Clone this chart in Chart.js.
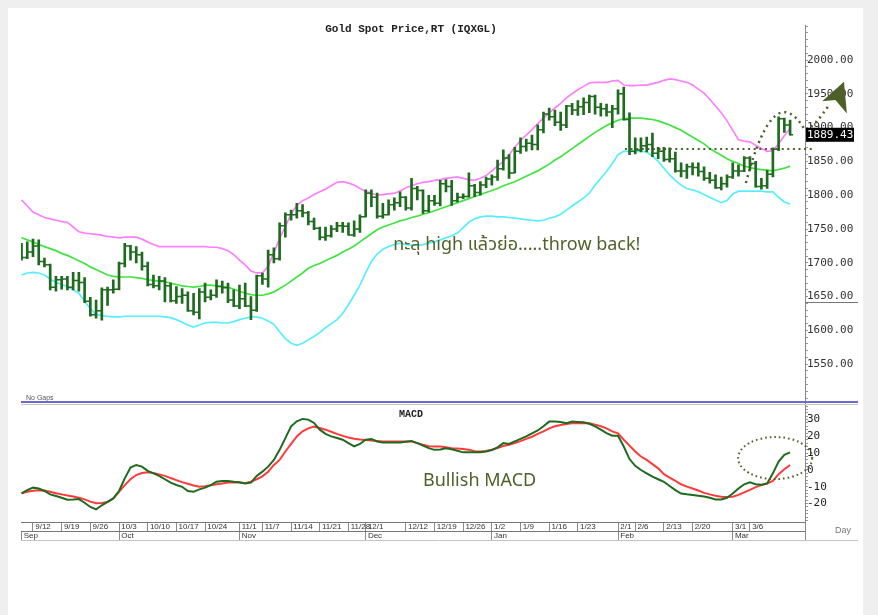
<!DOCTYPE html>
<html>
<head>
<meta charset="utf-8">
<script src="https://cdn.jsdelivr.net/npm/chart.js@4.4.1/dist/chart.umd.min.js"></script>
<style>
  html, body { margin: 0; padding: 0; background: #fff; }
  canvas { display: block; }
</style>
</head>
<body>
<canvas id="grafico" width="878" height="615"></canvas>
<script>
// Fechas (días hábiles) sep-2022 .. mar-2023
const dates = [
  '9/8','9/9','9/12','9/13','9/14','9/15','9/16','9/19','9/20','9/21','9/22','9/23','9/26','9/27','9/28','9/29','9/30',
  '10/3','10/4','10/5','10/6','10/7','10/10','10/11','10/12','10/13','10/14','10/17','10/18','10/19','10/20','10/21','10/24','10/25','10/26','10/27','10/28','10/31',
  '11/1','11/2','11/3','11/4','11/7','11/8','11/9','11/10','11/11','11/14','11/15','11/16','11/17','11/18','11/21','11/22','11/23','11/24','11/25','11/28','11/29','11/30',
  '12/1','12/2','12/5','12/6','12/7','12/8','12/9','12/12','12/13','12/14','12/15','12/16','12/19','12/20','12/21','12/22','12/23','12/26','12/27','12/28','12/29','12/30',
  '1/2','1/3','1/4','1/5','1/6','1/9','1/10','1/11','1/12','1/13','1/16','1/17','1/18','1/19','1/20','1/23','1/24','1/25','1/26','1/27','1/30','1/31',
  '2/1','2/2','2/3','2/6','2/7','2/8','2/9','2/10','2/13','2/14','2/15','2/16','2/17','2/20','2/21','2/22','2/23','2/24','2/27','2/28',
  '3/1','3/2','3/3','3/6','3/7','3/8','3/9','3/10','3/13','3/14','3/15'
];

const openPx = [
  1718,1708,1716,1725,1702,1697,1664,1675,1676,1664,1674,1671,1643,1623,1629,1660,1660,
  1661,1699,1725,1716,1712,1695,1668,1666,1673,1666,1644,1650,1652,1629,1627,1657,1649,1652,1665,1663,1645,
  1636,1647,1636,1630,1681,1676,1712,1706,1755,1771,1771,1777,1774,1761,1751,1738,1740,1750,1755,1754,1741,1750,
  1768,1803,1797,1769,1771,1786,1789,1797,1781,1810,1807,1777,1792,1788,1817,1813,1792,1797,1798,1814,1804,1815,
  1824,1827,1839,1855,1833,1865,1872,1877,1875,1897,1920,1916,1908,1904,1932,1926,1931,1937,1946,1930,1928,1923,
  1928,1950,1912,1865,1867,1873,1875,1862,1865,1853,1854,1836,1836,1842,1841,1835,1825,1822,1811,1817,
  1827,1836,1836,1855,1847,1813,1814,1831,1868,1913,1904
];
const highPx = [
  1729,1731,1735,1734,1707,1698,1680,1680,1680,1686,1686,1678,1649,1645,1663,1664,1675,
  1701,1729,1726,1724,1716,1701,1682,1680,1678,1670,1665,1662,1657,1655,1662,1670,1660,1675,1673,1670,1660,
  1667,1670,1650,1682,1685,1719,1722,1759,1774,1778,1788,1786,1776,1766,1753,1753,1755,1760,1760,1759,1762,1771,
  1808,1808,1803,1788,1793,1796,1805,1798,1825,1813,1808,1800,1800,1822,1823,1822,1803,1802,1833,1816,1820,1827,
  1830,1852,1867,1860,1871,1885,1883,1889,1904,1923,1929,1926,1923,1933,1936,1940,1944,1948,1948,1936,1935,1933,
  1956,1960,1922,1885,1885,1886,1892,1871,1871,1870,1864,1848,1846,1848,1848,1842,1834,1830,1827,1830,
  1848,1845,1857,1857,1850,1825,1837,1870,1916,1914,1911
];
const lowPx = [
  1704,1706,1709,1697,1694,1660,1658,1661,1660,1660,1658,1641,1621,1618,1615,1637,1655,
  1660,1694,1704,1700,1689,1666,1663,1660,1642,1642,1640,1640,1628,1623,1617,1642,1645,1649,1655,1641,1635,
  1632,1635,1616,1628,1668,1664,1700,1704,1738,1763,1766,1768,1756,1749,1734,1733,1738,1746,1745,1741,1739,1745,
  1768,1783,1766,1766,1771,1778,1783,1778,1778,1793,1773,1775,1785,1784,1805,1785,1790,1795,1797,1798,1800,1811,
  1815,1822,1837,1825,1833,1862,1865,1867,1867,1892,1911,1903,1896,1900,1919,1918,1919,1922,1920,1917,1917,1900,
  1920,1911,1860,1861,1864,1864,1857,1854,1850,1849,1834,1827,1825,1830,1828,1822,1818,1810,1808,1812,
  1825,1828,1835,1837,1812,1809,1810,1827,1866,1893,1889
];
const closePx = [
  1708,1716,1725,1702,1697,1664,1675,1676,1664,1674,1671,1643,1623,1629,1660,1660,1661,
  1699,1725,1716,1712,1695,1668,1666,1673,1666,1644,1650,1652,1629,1627,1657,1649,1652,1665,1663,1645,1636,
  1647,1636,1630,1681,1676,1712,1706,1755,1771,1771,1777,1774,1761,1751,1738,1740,1750,1755,1754,1741,1750,1768,
  1803,1797,1769,1771,1786,1789,1797,1781,1810,1807,1777,1792,1788,1817,1813,1792,1797,1798,1814,1804,1815,1824,
  1827,1839,1855,1833,1865,1872,1877,1875,1897,1920,1916,1908,1904,1932,1926,1931,1937,1946,1930,1928,1923,1928,
  1950,1912,1865,1867,1873,1875,1862,1865,1853,1854,1836,1836,1842,1841,1835,1825,1822,1811,1817,1827,
  1836,1836,1855,1847,1813,1814,1831,1868,1913,1904,1889.43
];

// Bandas de Bollinger
const bbUpper = [
  1793,1784,1775,1771,1767,1765,1763,1761,1760,1753,1746,1744,1743,1742,1741,1739,1738,1737,1738,1738,
  1738,1735,1731,1727,1724,1724,1724,1724,1724,1724,1724,1724,1724,1723,1723,1721,1718,1712,1704,1697,
  1688,1685,1685,1695,1715,1736,1754,1772,1785,1792,1796,1801,1805,1809,1814,1819,1820,1818,1815,1810,
  1806,1803,1800,1801,1802,1803,1806,1811,1814,1817,1819,1820,1822,1823,1825,1826,1827,1825,1823,1822,
  1825,1829,1836,1843,1850,1860,1871,1881,1889,1897,1906,1914,1922,1929,1936,1944,1950,1956,1961,1966,
  1967,1967,1967,1969,1970,1963,1962,1962,1963,1963,1965,1967,1970,1972,1971,1969,1967,1963,1957,1951,
  1942,1932,1922,1910,1896,1882,1880,1879,1874,1869,1865,1866,1876,1888,1899
];
const bbMid = [
  1737,1734,1731,1727,1724,1721,1718,1714,1711,1707,1703,1699,1694,1690,1686,1682,1680,1679,1679,1679,
  1678,1677,1675,1674,1673,1672,1670,1668,1666,1665,1664,1665,1667,1667,1666,1665,1664,1661,1658,1655,
  1653,1652,1652,1654,1657,1662,1667,1673,1679,1685,1692,1696,1699,1703,1707,1711,1716,1720,1725,1731,
  1737,1743,1749,1753,1756,1759,1762,1764,1767,1769,1772,1774,1777,1780,1783,1786,1789,1792,1795,1798,
  1801,1804,1807,1810,1814,1817,1820,1824,1828,1832,1836,1841,1846,1852,1857,1863,1869,1875,1881,1887,
  1893,1898,1903,1907,1911,1913,1914,1914,1914,1913,1912,1910,1907,1904,1900,1896,1891,1886,1881,1876,
  1869,1864,1859,1854,1850,1847,1843,1841,1839,1838,1837,1836,1838,1840,1843
];
const bbLower = [
  1682,1685,1686,1685,1682,1676,1671,1668,1665,1660,1655,1643,1632,1624,1622,1621,1620,1620,1621,1621,
  1621,1621,1621,1621,1621,1620,1619,1616,1612,1608,1605,1608,1611,1612,1612,1611,1611,1613,1616,1618,
  1620,1620,1618,1614,1609,1598,1588,1581,1578,1581,1586,1591,1597,1604,1610,1616,1625,1638,1652,1667,
  1685,1702,1713,1720,1724,1727,1729,1727,1726,1726,1727,1729,1731,1734,1737,1740,1744,1752,1760,1765,
  1768,1769,1769,1768,1768,1767,1766,1765,1764,1763,1762,1763,1766,1768,1772,1778,1784,1790,1796,1803,
  1815,1825,1835,1847,1860,1865,1865,1865,1865,1864,1858,1850,1840,1830,1822,1815,1810,1808,1805,1801,
  1797,1793,1789,1792,1802,1806,1806,1806,1806,1806,1805,1805,1797,1790,1787
];

// MACD y señal
const macdLine = [
  -13.9,-12,-10.5,-11,-12.5,-14.5,-15.5,-16.5,-17.7,-17.6,-17.3,-19.5,-22,-23.4,-21,-19,-16.9,-12.5,-5,1.5,
  3,2,-0.5,-2,-3.5,-5.5,-7.5,-8.9,-10,-12.5,-13,-11.5,-10.5,-9,-7,-6.5,-6.5,-7,-7.3,-8,
  -7.5,-3.5,-1,2,6,12,19,26,29,30.4,30,28,24,21.5,20,19,18,16,14,15.5,
  18,18.5,17,16.3,16.3,16.3,16.3,16.8,17.3,16,14.5,13,12,12.2,12.9,12.3,11.5,10.5,10.5,10.5,
  10.5,11,11.9,13.5,16,15.5,17,18.5,20,21.8,23.5,26,28.8,28.8,28.5,27.8,28.8,28.6,28.4,27.5,
  26,24,22,20.4,20.4,14,6.5,2.5,0,-2,-4,-5.5,-7,-9.5,-12,-14,-14.5,-14.9,-15.3,-15.8,
  -16.5,-17.5,-17.5,-16.5,-14,-11,-8.5,-7.3,-8.5,-8.8,-8,-2,5,9,10.5
];
const signalLine = [
  -13.9,-13,-12.3,-12,-12.2,-13,-13.8,-14.5,-15.2,-15.8,-16.5,-17.5,-18.8,-19.8,-19.6,-19,-17,-13,-9,-5.5,
  -3,-1.8,-1.4,-1.8,-2.6,-3.5,-4.8,-6,-7.2,-8.2,-9.2,-9.9,-9.6,-9.1,-8.5,-8,-7.5,-7.3,-7.5,-7.9,
  -7,-5.5,-3.8,-1,3,6,11,15.5,20,23,24.8,25.8,25,24,22.8,21.5,20.3,19.3,18.6,18.2,
  17.9,17.5,17.2,16.9,16.9,16.9,16.9,16.9,16.9,16,15,14.2,14,14,13.5,13,12.8,12.5,12,11.2,
  11,11.3,12,13,14.3,15,16,17.2,18.5,19.8,21.5,23,24.8,26,26.8,27.4,27.8,27.8,27.8,27.8,
  27,26,24.8,23,21.8,18,14.5,11,8,6,3.5,1,-2.5,-4.5,-6.5,-8.5,-9.9,-11,-12.2,-13.6,
  -14.5,-15.3,-15.9,-16,-15.9,-14.8,-13.3,-11.8,-10.2,-9,-8,-6.5,-2.5,0.5,3
];

// Etiquetas de ejes
const dateTicks = ['9/12','9/19','9/26','10/3','10/10','10/17','10/24','11/1','11/7','11/14','11/21','11/28',
  '12/1','12/12','12/19','12/26','1/2','1/9','1/16','1/23','2/1','2/6','2/13','2/20','3/1','3/6'];
const monthStarts = ['9/8','10/3','11/1','12/1','1/2','2/1','3/1'];
const monthNames = ['Sep','Oct','Nov','Dec','Jan','Feb','Mar'];
const priceLabels = [1550,1600,1650,1700,1750,1800,1850,1900,1950,2000];
const macdLabels = [-20,-10,0,10,20,30];

// Notas dibujadas sobre el gráfico (coordenadas en datos: índice, valor)
const breakLevel = 1868;
const breakLine = [105.2, 138.3];
const arcPts = [[126.3,1818],[129.6,1926],[133.1,1948],[136.6,1896],[138.3,1901],[140.9,1935]];
const arrowHead = [[143.4,1968],[139.6,1939],[141.9,1941],[143.9,1921]];
const macdRing = { i: 131.4, v: 7.1, rx: 37, ry: 21 };
const notaPrecio = { i: 64.8, v: 1725, txt: 'ทะลุ high แล้วย่อ.....throw back!' };
const notaMacd = { i: 70, v: -6.5, txt: 'Bullish MACD' };

const VERDE = '#1e6a1e';
const OLIVA = '#4f6228';

const pts = (arr) => arr.map((v, i) => ({ x: i, y: v }));

const marco = {
  id: 'marco',
  beforeDraw(c) {
    const g = c.ctx;
    g.save();
    g.fillStyle = '#fff';
    g.fillRect(0, 0, c.width, c.height);
    g.fillStyle = '#efefef';
    g.fillRect(0, 0, c.width, 8);
    g.fillRect(0, 0, 8, c.height);
    g.fillRect(863, 0, 15, c.height);
    g.restore();
  }
};

const notas = {
  id: 'notas',
  afterDraw(c) {
    const g = c.ctx;
    const sx = c.scales.x, sy = c.scales.y, sm = c.scales.ym;
    const P = (i, v) => [sx.getPixelForValue(i), sy.getPixelForValue(v)];
    const right = c.chartArea.right;
    g.save();

    // títulos
    g.fillStyle = '#222';
    g.textAlign = 'center';
    g.textBaseline = 'middle';
    g.font = "bold 11px 'Liberation Mono', monospace";
    g.fillText('Gold Spot Price,RT (IQXGL)', 411, 29);
    g.font = "bold 10px 'Liberation Mono', monospace";
    g.fillText('MACD', 411, 414);

    g.textAlign = 'left';
    g.fillStyle = '#555';
    g.font = "7px 'Liberation Sans', sans-serif";
    g.fillText('No Gaps', 26, 398);

    // separador entre paneles
    const sep = sy.bottom;
    g.fillStyle = '#6a6ad0';
    g.fillRect(21, sep - 2.5, 837, 2);
    g.fillStyle = '#c8c8c8';
    g.fillRect(21, sep + 0.5, 837, 1);

    // líneas de marco del eje
    g.strokeStyle = '#888';
    g.lineWidth = 1;
    g.beginPath();
    g.moveTo(right + 0.5, c.chartArea.bottom);
    g.lineTo(right + 0.5, 541);
    g.stroke();
    g.strokeStyle = '#c4c4c4';
    g.beginPath();
    g.moveTo(21, 540.5);
    g.lineTo(858, 540.5);
    g.stroke();
    g.strokeStyle = '#777';
    const y1650 = Math.round(sy.getPixelForValue(1642)) + 0.5;
    g.beginPath();
    g.moveTo(right, y1650);
    g.lineTo(858, y1650);
    g.stroke();

    g.fillStyle = '#777';
    g.font = "9px 'Liberation Sans Narrow', 'Liberation Sans', sans-serif";
    g.fillText('Day', 835, 531);

    // textos de análisis
    g.fillStyle = OLIVA;
    g.font = "18px 'Noto Sans Thai', 'Noto Sans', 'DejaVu Sans', sans-serif";
    g.fillText(notaPrecio.txt, sx.getPixelForValue(notaPrecio.i), sy.getPixelForValue(notaPrecio.v));
    g.font = "18px 'Noto Sans', sans-serif";
    g.fillText(notaMacd.txt, sx.getPixelForValue(notaMacd.i), sm.getPixelForValue(notaMacd.v));

    // línea punteada de ruptura
    g.strokeStyle = '#4f5f2a';
    g.lineWidth = 2;
    g.setLineDash([2, 3.6]);
    const ly = Math.round(sy.getPixelForValue(breakLevel));
    g.beginPath();
    g.moveTo(sx.getPixelForValue(breakLine[0]), ly);
    g.lineTo(sx.getPixelForValue(breakLine[1]), ly);
    g.stroke();

    // arco punteado + flecha
    const q = arcPts.map(([i, v]) => P(i, v));
    g.lineWidth = 2.5;
    g.setLineDash([2, 4]);
    g.beginPath();
    g.moveTo(q[0][0], q[0][1]);
    g.bezierCurveTo(q[1][0], q[1][1], q[2][0], q[2][1], q[3][0], q[3][1]);
    g.quadraticCurveTo(q[4][0], q[4][1], q[5][0], q[5][1]);
    g.stroke();
    g.setLineDash([]);
    const h = arrowHead.map(([i, v]) => P(i, v));
    g.fillStyle = '#4f5f2a';
    g.beginPath();
    g.moveTo(h[0][0], h[0][1]);
    for (let k = 1; k < h.length; k++) g.lineTo(h[k][0], h[k][1]);
    g.closePath();
    g.fill();

    // elipse punteada en MACD
    g.lineWidth = 2;
    g.setLineDash([1.6, 3]);
    g.beginPath();
    g.ellipse(sx.getPixelForValue(macdRing.i), sm.getPixelForValue(macdRing.v), macdRing.rx, macdRing.ry, 0, 0, Math.PI * 2);
    g.stroke();
    g.setLineDash([]);

    // último precio
    const last = closePx[closePx.length - 1];
    const by = sy.getPixelForValue(last);
    g.fillStyle = '#000';
    g.fillRect(right + 1, by - 7, 48, 14);
    g.fillStyle = '#fff';
    g.font = "11px 'DejaVu Sans Mono', monospace";
    g.textBaseline = 'middle';
    g.fillText(last.toFixed(2), right + 2, by + 0.5);

    g.restore();
  }
};

const fuenteEje = { family: "'DejaVu Sans Mono', monospace", size: 11 };
const fuenteFecha = { family: "'Liberation Sans Narrow', 'Liberation Sans', sans-serif", size: 8 };

const xBase = {
  type: 'linear',
  position: 'bottom',
  min: -0.09,
  max: 136.6,
  offset: false,
  border: { color: '#777' },
};

new Chart(document.getElementById('grafico'), {
  data: {
    datasets: [
      {
        type: 'bar', label: 'Rango', xAxisID: 'x', yAxisID: 'y',
        data: dates.map((d, i) => ({ x: i, y: [lowPx[i], highPx[i]] })),
        backgroundColor: VERDE, barThickness: 2, borderWidth: 0, grouped: false
      },
      {
        type: 'line', label: 'Apertura', xAxisID: 'x', yAxisID: 'y', data: pts(openPx),
        showLine: false, pointStyle: 'dash', pointRadius: 3, pointRotation: 180,
        pointBorderColor: VERDE, pointBorderWidth: 1.5
      },
      {
        type: 'line', label: 'Cierre', xAxisID: 'x', yAxisID: 'y', data: pts(closePx),
        showLine: false, pointStyle: 'dash', pointRadius: 3, pointRotation: 0,
        pointBorderColor: VERDE, pointBorderWidth: 1.5
      },
      { type: 'line', label: 'BB sup', xAxisID: 'x', yAxisID: 'y', data: pts(bbUpper), borderColor: '#ff80ff', borderWidth: 1.7, pointRadius: 0 },
      { type: 'line', label: 'BB media', xAxisID: 'x', yAxisID: 'y', data: pts(bbMid), borderColor: '#3fe43f', borderWidth: 1.7, pointRadius: 0 },
      { type: 'line', label: 'BB inf', xAxisID: 'x', yAxisID: 'y', data: pts(bbLower), borderColor: '#55efff', borderWidth: 1.7, pointRadius: 0 },
      { type: 'line', label: 'MACD', xAxisID: 'x', yAxisID: 'ym', data: pts(macdLine), borderColor: VERDE, borderWidth: 2, pointRadius: 0 },
      { type: 'line', label: 'Señal', xAxisID: 'x', yAxisID: 'ym', data: pts(signalLine), borderColor: '#ff3a3a', borderWidth: 2, pointRadius: 0 }
    ]
  },
  options: {
    responsive: false,
    animation: false,
    events: [],
    layout: { padding: { left: 21, right: 0, top: 25, bottom: 74 } },
    plugins: { legend: { display: false }, tooltip: { enabled: false } },
    scales: {
      x: {
        ...xBase,
        weight: 0,
        afterBuildTicks: s => { s.ticks = dateTicks.map(d => ({ value: dates.indexOf(d) })); },
        afterFit: s => { s.height = 9; },
        grid: { drawOnChartArea: false, offset: false, tickColor: '#8a8a8a', tickLength: 9 },
        ticks: {
          autoSkip: false, maxRotation: 0, minRotation: 0, align: 'start', padding: -9,
          color: '#333', font: fuenteFecha, callback: v => ' ' + dates[v]
        }
      },
      xm: {
        ...xBase,
        weight: 1,
        afterBuildTicks: s => { s.ticks = monthStarts.map(d => ({ value: dates.indexOf(d) })); },
        afterFit: s => { s.height = 10; },
        grid: { drawOnChartArea: false, offset: false, tickColor: '#8a8a8a', tickLength: 10 },
        ticks: {
          autoSkip: false, maxRotation: 0, minRotation: 0, align: 'start', padding: -10,
          color: '#333', font: fuenteFecha, callback: v => ' ' + monthNames[monthStarts.indexOf(dates[v])]
        }
      },
      y: {
        position: 'right', stack: 'panel', stackWeight: 378.5,
        min: 1491.9, max: 2051.8,
        afterBuildTicks: s => {
          const t = [];
          for (let v = 1500; v <= 2050; v += 10) t.push({ value: v });
          s.ticks = t;
        },
        afterFit: s => { s.width = 73; },
        grid: { drawOnChartArea: false, tickLength: 3, tickColor: '#999' },
        border: { color: '#888' },
        ticks: {
          autoSkip: false, padding: -1, color: '#333', font: fuenteEje,
          callback: v => priceLabels.includes(v) ? v.toFixed(2) : ''
        }
      },
      ym: {
        position: 'right', stack: 'panel', stackWeight: 118.5,
        min: -30.95, max: 39.58,
        afterBuildTicks: s => {
          const t = [];
          for (let v = -30; v <= 38; v += 2) t.push({ value: v });
          s.ticks = t;
        },
        afterFit: s => { s.width = 73; },
        grid: { drawOnChartArea: false, tickLength: 3, tickColor: '#999' },
        border: { color: '#888' },
        ticks: {
          autoSkip: false, padding: -1, color: '#222', font: fuenteEje,
          callback: v => macdLabels.includes(v) ? String(v) : ''
        }
      }
    }
  },
  plugins: [marco, notas]
});
</script>
</body>
</html>
